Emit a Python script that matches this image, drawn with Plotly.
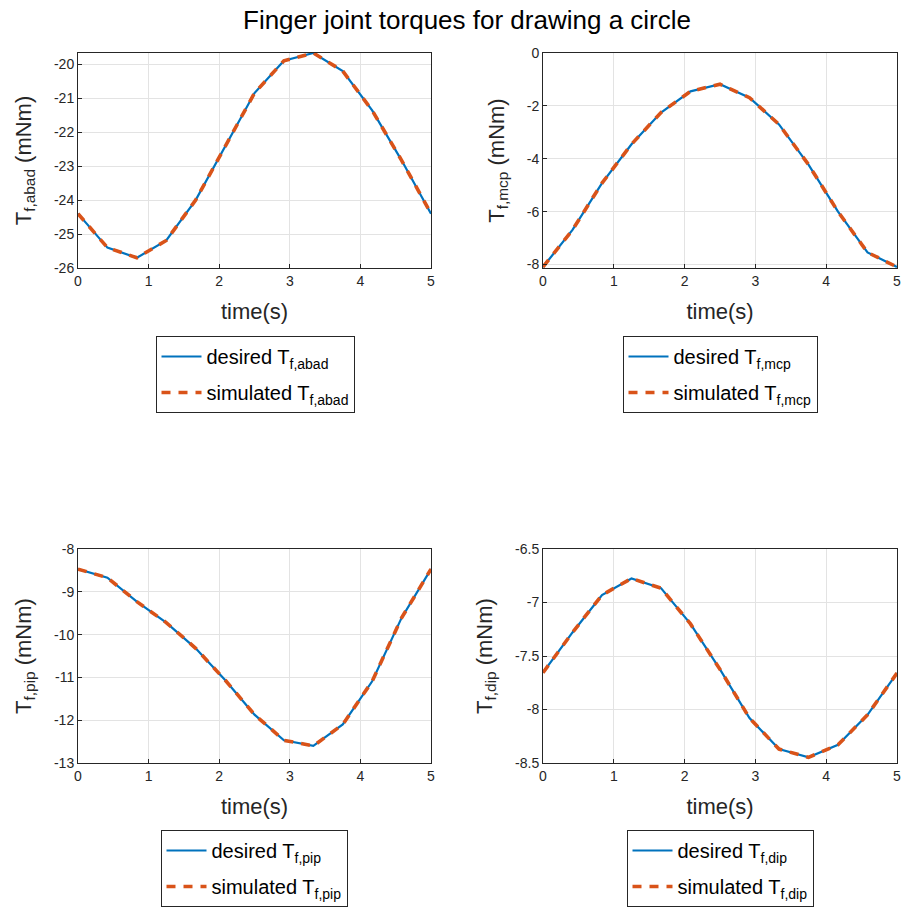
import plotly.graph_objects as go

t = [0, 5/12, 10/12, 15/12, 20/12, 25/12, 30/12, 35/12, 40/12, 45/12, 50/12, 55/12, 5]

abad = [-24.40, -25.40, -25.70, -25.19, -24.00, -22.44, -20.85, -19.90, -19.67, -20.20, -21.36, -22.83, -24.40]
mcp = [-8.09, -6.69, -4.92, -3.45, -2.25, -1.45, -1.18, -1.69, -2.70, -4.22, -6.00, -7.54, -8.09]
pip = [-8.47, -8.67, -9.23, -9.72, -10.32, -11.06, -11.87, -12.47, -12.60, -12.10, -11.09, -9.61, -8.47]
dip = [-7.656, -7.28, -6.93, -6.775, -6.866, -7.20, -7.625, -8.08, -8.37, -8.447, -8.33, -8.05, -7.66]

names = ["abad", "mcp", "pip", "dip"]
series = [abad, mcp, pip, dip]
y_ranges = [[-26, -19.67], [-8.13, 0], [-13, -8], [-8.5, -6.5]]
y_ticks = [[-26, -25, -24, -23, -22, -21, -20], [-8, -6, -4, -2, 0],
           [-13, -12, -11, -10, -9, -8], [-8.5, -8, -7.5, -7, -6.5]]
y_ticktext = [["-26", "-25", "-24", "-23", "-22", "-21", "-20"], ["-8", "-6", "-4", "-2", "0"],
              ["-13", "-12", "-11", "-10", "-9", "-8"], ["-8.5", "-8", "-7.5", "-7", "-6.5"]]
x_ticks = [0, 1, 2, 3, 4, 5]
title = "Finger joint torques for drawing a circle"

W, H = 902, 910
FONT = "Liberation Sans, Arial, Helvetica, sans-serif"
TXT = "#262626"

x_doms = [[78/W, 431/W], [543/W, 897/W], [78/W, 431/W], [543/W, 897/W]]
y_doms = [[1-268/H, 1-53/H], [1-268/H, 1-53/H], [1-763/H, 1-549/H], [1-763/H, 1-549/H]]
leg_pos = [(255/W, 1-336/H), (720/W, 1-336/H), (254/W, 1-830/H), (720/W, 1-830/H)]

fig = go.Figure()
layout = dict(
    template="none",
    width=W, height=H, margin=dict(l=0, r=0, t=0, b=0, autoexpand=False),
    paper_bgcolor="white", plot_bgcolor="white",
    font=dict(family=FONT, color=TXT),
    showlegend=True,
    annotations=[dict(text=title, x=467/W, y=1-20/H, xref="paper", yref="paper",
                      xanchor="center", yanchor="middle", showarrow=False,
                      font=dict(size=26, color="black", family=FONT))],
)

for i, (nm, ys) in enumerate(zip(names, series)):
    k = "" if i == 0 else str(i + 1)
    leg = "legend" + k
    fig.add_trace(go.Scatter(x=t, y=ys, mode="lines", name=f"desired T<sub>f,{nm}</sub>",
                             line=dict(color="#0072BD", width=2.2), legendgroup=f"d{i}",
                             xaxis="x" + k, yaxis="y" + k, legend=leg))
    fig.add_trace(go.Scatter(x=t, y=ys, mode="lines", name=f"simulated T<sub>f,{nm}</sub>",
                             line=dict(color="#D95319", width=3.6, dash="9px,8px"), legendgroup=f"s{i}",
                             xaxis="x" + k, yaxis="y" + k, legend=leg))
    common = dict(showline=True, linecolor=TXT, linewidth=1, mirror=True,
                  ticks="inside", ticklen=4, tickcolor=TXT, automargin=False,
                  showgrid=True, gridcolor="#e3e3e3", gridwidth=1, zeroline=False,
                  tickfont=dict(size=14, color=TXT, family=FONT))
    layout["xaxis" + k] = dict(domain=x_doms[i], range=[0, 5], tickvals=x_ticks,
                               anchor="y" + k,
                               title=dict(text="time(s)", font=dict(size=22, color=TXT, family=FONT), standoff=15),
                               **common)
    layout["yaxis" + k] = dict(domain=y_doms[i], range=y_ranges[i], tickvals=y_ticks[i],
                               ticktext=y_ticktext[i], anchor="x" + k,
                               title=dict(text=f"T<sub>f,{nm}</sub> (mNm)", font=dict(size=22, color=TXT, family=FONT), standoff=16),
                               **common)
    lx, ly = leg_pos[i]
    layout[leg] = dict(x=lx, y=ly, xanchor="center", yanchor="top", xref="paper", yref="paper",
                       bgcolor="white", bordercolor=TXT, borderwidth=1,
                       font=dict(size=20, color="black", family=FONT),
                       itemwidth=40, tracegroupgap=7)

fig.update_layout(**layout)
fig.write_html("out.html", config={"displayModeBar": False},
               post_script="document.body.style.margin='0';document.body.style.overflow='hidden';")
